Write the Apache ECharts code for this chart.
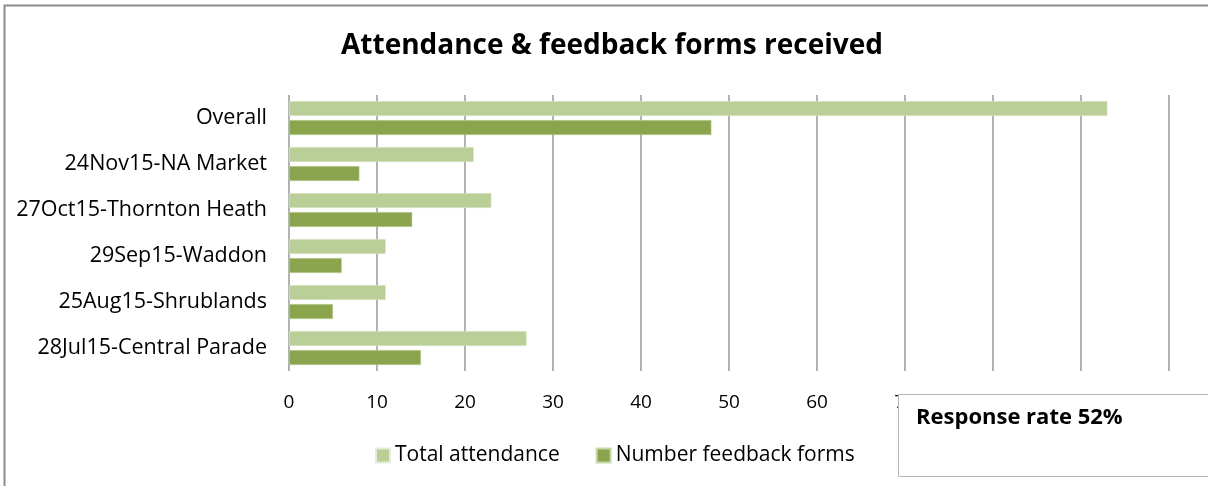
<!DOCTYPE html>
<html>
<head>
<meta charset="utf-8">
<script src="https://cdn.jsdelivr.net/npm/echarts@6/dist/echarts.min.js"></script>
<style>
  html, body { margin: 0; padding: 0; background: #fff; }
  #chart { width: 1208px; height: 486px; }
</style>
</head>
<body>
<div id="chart"></div>
<script>
// categories top to bottom, as shown in the chart
const categories = ['Overall', '24Nov15-NA Market', '27Oct15-Thornton Heath', '29Sep15-Waddon', '25Aug15-Shrublands', '28Jul15-Central Parade'];
const totalAttendance = [93, 21, 23, 11, 11, 27];
const feedbackForms = [48, 8, 14, 6, 5, 15];
const xTicks = [0, 10, 20, 30, 40, 50, 60, 70, 80, 90, 100];

const font = '"Open Sans", "Noto Sans", sans-serif';
const chart = echarts.init(document.getElementById('chart'));

const option = {
  backgroundColor: '#fff',
  animation: false,
  title: {
    text: 'Attendance & feedback forms received',
    left: 336,
    top: 27,
    textStyle: { fontFamily: font, fontSize: 28, fontWeight: 'bold', color: '#000' }
  },
  legend: {
    data: ['Total attendance', 'Number feedback forms'],
    left: 370,
    top: 440,
    itemWidth: 14,
    itemHeight: 14,
    itemGap: 36,
    icon: 'rect',
    textStyle: { fontFamily: font, fontSize: 21, color: '#000' }
  },
  grid: { left: 289, right: 39, top: 95, bottom: 115 },
  xAxis: {
    type: 'value',
    min: xTicks[0],
    max: xTicks[xTicks.length - 1],
    interval: 10,
    axisLine: { show: false },
    axisTick: { show: false },
    axisLabel: { margin: 22, fontFamily: font, fontSize: 19, color: '#000' },
    splitLine: { show: true, lineStyle: { color: '#989898', width: 1.5 } }
  },
  yAxis: {
    type: 'category',
    inverse: true,
    data: categories,
    axisLine: { show: false },
    axisTick: { show: false },
    axisLabel: { margin: 22, fontFamily: font, fontSize: 21.5, color: '#000' }
  },
  series: [
    {
      name: 'Total attendance',
      type: 'bar',
      data: totalAttendance,
      barWidth: 15,
      barGap: '27%',
      itemStyle: { color: '#b9cf97', borderColor: '#e4eed6', borderWidth: 0.5 }
    },
    {
      name: 'Number feedback forms',
      type: 'bar',
      data: feedbackForms,
      barWidth: 15,
      itemStyle: { color: '#8aa54d', borderColor: '#c9d8ab', borderWidth: 0.5 }
    }
  ],
  graphic: [
    {
      type: 'rect',
      z: 100,
      shape: { x: 4.5, y: 5.5, width: 1220, height: 500 },
      style: { fill: null, stroke: '#8c8c8c', lineWidth: 2 },
      silent: true
    },
    {
      type: 'group',
      z: 100,
      left: 898,
      top: 394,
      children: [
        {
          type: 'rect',
          z: 100,
          shape: { x: 0.5, y: 0.5, width: 330, height: 82 },
          style: { fill: '#fff', stroke: '#b5b5b5', lineWidth: 1 }
        },
        {
          type: 'text',
          z: 101,
          x: 18,
          y: 13,
          style: { text: 'Response rate 52%', fontFamily: font, fontSize: 22, fontWeight: 'bold', fill: '#000' }
        }
      ]
    }
  ]
};

chart.setOption(option);
</script>
</body>
</html>
